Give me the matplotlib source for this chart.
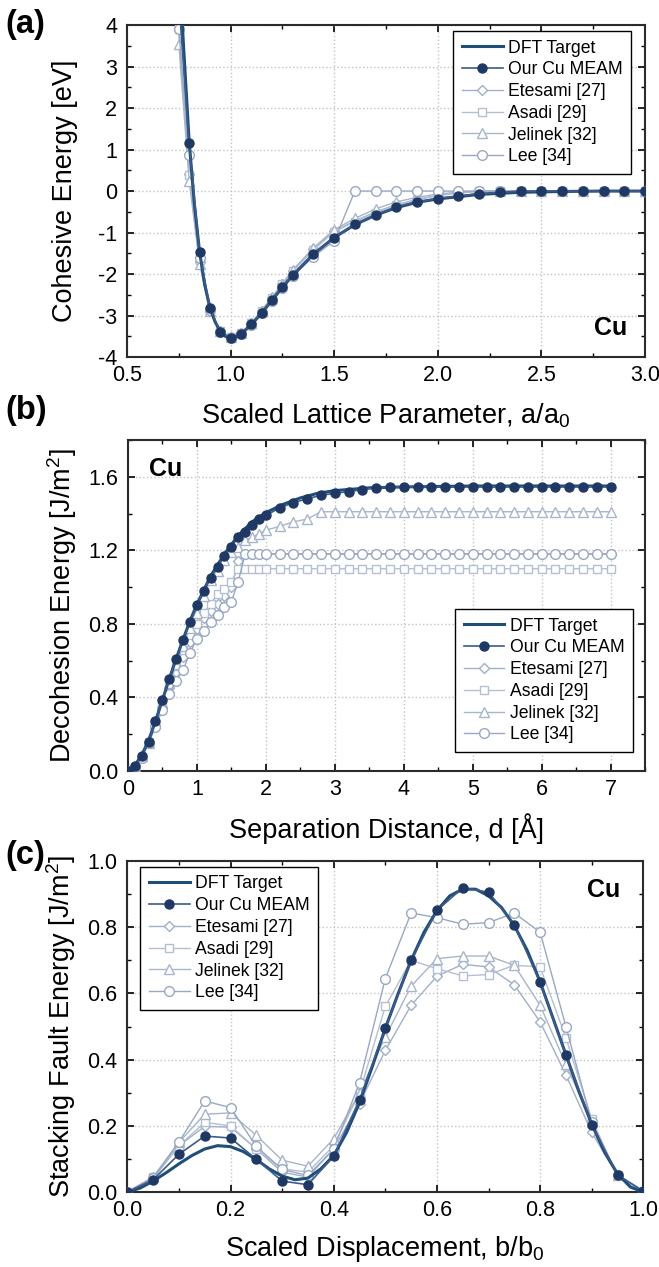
import matplotlib
matplotlib.use('Agg')
import matplotlib.pyplot as plt
from matplotlib.ticker import MultipleLocator

plt.rcParams['font.family'] = ['Liberation Sans', 'DejaVu Sans']
plt.rcParams['mathtext.fontset'] = 'custom'
plt.rcParams['mathtext.rm'] = 'Liberation Sans'
plt.rcParams['mathtext.it'] = 'Liberation Sans:italic'

labels = ['DFT Target', 'Our Cu MEAM', 'Etesami [27]', 'Asadi [29]', 'Jelinek [32]', 'Lee [34]']

#%% (a) cohesive energy
a_x = [0.75, 0.8, 0.85, 0.9, 0.95, 1.0, 1.05, 1.1, 1.15, 1.2, 1.25, 1.3, 1.4, 1.5, 1.6,
       1.7, 1.8, 1.9, 2.0, 2.1, 2.2, 2.3, 2.4, 2.5, 2.6, 2.7, 2.8, 2.9, 3.0]
a_meam = [4.6, 1.15, -1.46, -2.82, -3.40, -3.54, -3.45, -3.21, -2.93, -2.62, -2.30, -2.02, -1.51, -1.12, -0.80,
          -0.58, -0.38, -0.26, -0.18, -0.12, -0.06, -0.03, 0.0, 0.0, 0.0, 0.0, 0.0, 0.0, 0.0]
a_etesami = [3.9, 0.40, -1.70, -2.88, -3.38, -3.52, -3.42, -3.18, -2.88, -2.57, -2.24, -1.92, -1.40, -0.96, -0.72,
             -0.50, -0.33, -0.20, -0.10, -0.04, 0.0, 0.0, 0.0, 0.0, 0.0, 0.0, 0.0, 0.0, 0.0]
a_asadi = [3.9, 0.38, -1.66, -2.86, -3.37, -3.52, -3.42, -3.18, -2.89, -2.58, -2.25, -1.93, -1.42, -0.98, -0.74,
           -0.52, -0.34, -0.21, -0.11, -0.05, -0.01, 0.0, 0.0, 0.0, 0.0, 0.0, 0.0, 0.0, 0.0]
a_jelinek = [3.55, 0.25, -1.75, -2.90, -3.38, -3.52, -3.42, -3.18, -2.88, -2.56, -2.23, -1.90, -1.37, -0.93, -0.66,
             -0.43, -0.26, -0.15, -0.07, -0.03, 0.0, 0.0, 0.0, 0.0, 0.0, 0.0, 0.0, 0.0, 0.0]
a_lee = [3.9, 0.86, -1.62, -2.86, -3.40, -3.54, -3.45, -3.22, -2.94, -2.64, -2.33, -2.05, -1.58, -1.20, 0.0,
         0.0, 0.0, 0.0, 0.0, 0.0, 0.0, 0.0, 0.0, 0.0, 0.0, 0.0, 0.0, 0.0, 0.0]
a_dft_x = [0.76, 0.8, 0.825, 0.85, 0.875, 0.9, 0.925, 0.95, 0.975, 1.0, 1.025, 1.05, 1.1, 1.15, 1.2, 1.25,
           1.3, 1.4, 1.5, 1.6, 1.7, 1.8, 1.9, 2.0, 2.2, 2.4, 2.6, 2.8, 3.0]
a_dft = [4.6, 1.2, -0.3, -1.45, -2.25, -2.8, -3.15, -3.38, -3.5, -3.54, -3.51, -3.45, -3.22, -2.94, -2.63, -2.32,
         -2.03, -1.52, -1.12, -0.81, -0.58, -0.40, -0.27, -0.19, -0.08, -0.03, -0.01, 0.0, 0.0]

#%% (b) decohesion energy
b_x = [0.0, 0.1, 0.2, 0.3, 0.4, 0.5, 0.6, 0.7, 0.8, 0.9, 1.0, 1.1, 1.2, 1.3, 1.4, 1.5, 1.6, 1.7, 1.8, 1.9, 2.0,
       2.2, 2.4, 2.6, 2.8, 3.0, 3.2, 3.4, 3.6, 3.8, 4.0, 4.2, 4.4, 4.6, 4.8, 5.0, 5.2, 5.4, 5.6, 5.8, 6.0,
       6.2, 6.4, 6.6, 6.8, 7.0]
b_meam = [0.0, 0.027, 0.08, 0.16, 0.27, 0.385, 0.50, 0.61, 0.71, 0.81, 0.90, 0.98, 1.05, 1.11, 1.17, 1.22, 1.27,
          1.30, 1.34, 1.37, 1.39, 1.43, 1.46, 1.48, 1.50, 1.51, 1.52, 1.53, 1.54, 1.545, 1.545, 1.545, 1.545,
          1.545, 1.545, 1.545, 1.545, 1.545, 1.545, 1.545, 1.545, 1.545, 1.545, 1.545, 1.545, 1.545]
b_etesami = [0.0, 0.02, 0.075, 0.155, 0.25, 0.35, 0.45, 0.54, 0.62, 0.70, 0.77, 0.83, 0.87, 0.91, 0.95, 1.00,
             1.14, 1.18, 1.18, 1.18, 1.18, 1.18, 1.18, 1.18, 1.18, 1.18, 1.18, 1.18, 1.18, 1.18, 1.18, 1.18,
             1.18, 1.18, 1.18, 1.18, 1.18, 1.18, 1.18, 1.18, 1.18, 1.18, 1.18, 1.18, 1.18, 1.18]
b_asadi = [0.0, 0.02, 0.075, 0.16, 0.26, 0.36, 0.47, 0.57, 0.66, 0.74, 0.80, 0.86, 0.91, 0.96, 0.99, 1.03,
           1.10, 1.10, 1.10, 1.10, 1.10, 1.10, 1.10, 1.10, 1.10, 1.10, 1.10, 1.10, 1.10, 1.10, 1.10, 1.10,
           1.10, 1.10, 1.10, 1.10, 1.10, 1.10, 1.10, 1.10, 1.10, 1.10, 1.10, 1.10, 1.10, 1.10]
b_jelinek = [0.0, 0.02, 0.08, 0.15, 0.26, 0.37, 0.48, 0.58, 0.68, 0.78, 0.86, 0.95, 1.04, 1.09, 1.15, 1.19,
             1.22, 1.255, 1.27, 1.29, 1.31, 1.33, 1.355, 1.37, 1.41, 1.41, 1.41, 1.41, 1.41, 1.41, 1.41, 1.41,
             1.41, 1.41, 1.41, 1.41, 1.41, 1.41, 1.41, 1.41, 1.41, 1.41, 1.41, 1.41, 1.41, 1.41]
b_lee = [0.0, 0.02, 0.07, 0.15, 0.24, 0.33, 0.42, 0.49, 0.55, 0.64, 0.72, 0.76, 0.81, 0.85, 0.89, 0.92,
         1.03, 1.18, 1.18, 1.18, 1.18, 1.18, 1.18, 1.18, 1.18, 1.18, 1.18, 1.18, 1.18, 1.18, 1.18, 1.18,
         1.18, 1.18, 1.18, 1.18, 1.18, 1.18, 1.18, 1.18, 1.18, 1.18, 1.18, 1.18, 1.18, 1.18]
b_dft_x = [0.0, 0.1, 0.2, 0.3, 0.4, 0.5, 0.6, 0.7, 0.8, 0.9, 1.0, 1.2, 1.4, 1.6, 1.8, 2.0, 2.25, 2.5, 2.75,
           3.0, 3.5, 4.0, 5.0, 6.0, 7.0]
b_dft = [0.0, 0.03, 0.085, 0.165, 0.27, 0.385, 0.5, 0.61, 0.715, 0.815, 0.905, 1.06, 1.18, 1.28, 1.355,
         1.405, 1.45, 1.485, 1.51, 1.525, 1.54, 1.545, 1.55, 1.55, 1.55]

#%% (c) stacking fault energy
c_x = [0.0, 0.05, 0.1, 0.15, 0.2, 0.25, 0.3, 0.35, 0.4, 0.45, 0.5, 0.55, 0.6, 0.65, 0.7, 0.75, 0.8, 0.85,
       0.9, 0.95, 1.0]
c_meam = [0.0, 0.037, 0.114, 0.169, 0.163, 0.099, 0.033, 0.022, 0.108, 0.279, 0.495, 0.70, 0.851, 0.919,
          0.906, 0.808, 0.634, 0.415, 0.203, 0.052, 0.003]
c_etesami = [0.0, 0.04, 0.14, 0.198, 0.196, 0.13, 0.06, 0.045, 0.13, 0.267, 0.428, 0.564, 0.652, 0.688,
             0.68, 0.626, 0.514, 0.354, 0.18, 0.05, 0.0]
c_asadi = [0.0, 0.045, 0.14, 0.21, 0.20, 0.13, 0.07, 0.06, 0.14, 0.30, 0.561, 0.70, 0.675, 0.653, 0.657,
           0.685, 0.68, 0.466, 0.22, 0.05, 0.0]
c_jelinek = [0.0, 0.045, 0.15, 0.235, 0.239, 0.171, 0.096, 0.078, 0.161, 0.30, 0.468, 0.622, 0.705, 0.713,
             0.713, 0.685, 0.564, 0.386, 0.21, 0.05, 0.0]
c_lee = [0.0, 0.043, 0.151, 0.275, 0.255, 0.138, 0.068, 0.05, 0.13, 0.33, 0.645, 0.843, 0.829, 0.809, 0.814,
         0.843, 0.785, 0.50, 0.21, 0.05, 0.0]
c_dft_x = [0.0, 0.025, 0.05, 0.075, 0.1, 0.125, 0.15, 0.175, 0.2, 0.225, 0.25, 0.275, 0.3, 0.325, 0.35,
           0.375, 0.4, 0.425, 0.45, 0.475, 0.5, 0.525, 0.55, 0.575, 0.6, 0.625, 0.65, 0.675, 0.7, 0.725,
           0.75, 0.775, 0.8, 0.825, 0.85, 0.875, 0.9, 0.925, 0.95, 0.975, 1.0]
c_dft = [0.0, 0.012, 0.033, 0.058, 0.085, 0.11, 0.13, 0.14, 0.137, 0.122, 0.098, 0.07, 0.048, 0.037, 0.042,
         0.07, 0.11, 0.18, 0.27, 0.38, 0.495, 0.60, 0.70, 0.785, 0.85, 0.895, 0.915, 0.915, 0.895, 0.86,
         0.805, 0.73, 0.635, 0.525, 0.415, 0.305, 0.205, 0.12, 0.055, 0.015, 0.0]

dft_col = '#1f4e79'
meam_face = '#1f3864'
meam_line = '#3d5a8a'
light_cols = ['#9fb0c8', '#b3bfd3', '#a8b5ca', '#99a8c2']
light_markers = ['D', 's', '^', 'o']
light_ms = [5.5, 6, 7, 7]


def draw(ax, dx, dy, x, meam, others):
    ax.plot(dx, dy, color=dft_col, lw=2.2, zorder=4, label=labels[0])
    ax.plot(x, meam, color=meam_line, lw=1.2, marker='o', ms=6.5, mfc=meam_face, mec=meam_face,
            zorder=5, label=labels[1])
    for i, ys in enumerate(others):
        ax.plot(x, ys, color=light_cols[i], lw=1.0, marker=light_markers[i], ms=light_ms[i],
                mfc='white', mec=light_cols[i], mew=1.0, zorder=3, label=labels[i + 2])


def style(ax):
    ax.tick_params(which='both', direction='in', top=True, right=True, labelsize=15.5)
    ax.tick_params(which='major', length=5, width=1.2)
    ax.tick_params(which='minor', length=3, width=1.0)
    ax.tick_params(axis='y', pad=7)
    ax.tick_params(axis='x', pad=6)
    ax.grid(True, which='major', ls=':', color='#c4c4c4', lw=1.0)
    ax.set_axisbelow(True)
    for s in ax.spines.values():
        s.set_linewidth(1.5)
        s.set_color('#2b2b2b')


def legend(ax, loc, anchor):
    leg = ax.legend(loc=loc, bbox_to_anchor=anchor, fontsize=12.7, frameon=True, fancybox=False,
                    edgecolor='black', framealpha=1, handlelength=2.3, handletextpad=0.3,
                    labelspacing=0.27, borderpad=0.5, borderaxespad=0)
    leg.get_frame().set_linewidth(1.0)
    leg.set_zorder(10)


fig = plt.figure(figsize=(6.59, 12.67), dpi=100)

ax1 = fig.add_axes([0.1927, 0.7182, 0.786, 0.262])
draw(ax1, a_dft_x, a_dft, a_x, a_meam, [a_etesami, a_asadi, a_jelinek, a_lee])
ax1.set_xlim(0.5, 3.0)
ax1.set_ylim(-4, 4)
ax1.xaxis.set_major_locator(MultipleLocator(0.5))
ax1.xaxis.set_minor_locator(MultipleLocator(0.25))
ax1.yaxis.set_major_locator(MultipleLocator(1))
ax1.yaxis.set_minor_locator(MultipleLocator(0.5))
ax1.xaxis.set_major_formatter(lambda v, p: f'{v:.1f}')
ax1.yaxis.set_major_formatter(lambda v, p: f'{v:.0f}')
style(ax1)
ax1.set_xlabel('Scaled Lattice Parameter, a/a$_\\mathregular{0}$', fontsize=19.5, labelpad=11)
ax1.set_ylabel('Cohesive Energy [eV]', fontsize=19.5)
ax1.yaxis.set_label_coords(-0.095, 0.5)
ax1.text(0.965, 0.05, 'Cu', transform=ax1.transAxes, fontsize=18, fontweight='bold', ha='right', va='bottom')
legend(ax1, 'upper right', (0.974, 0.983))

ax2 = fig.add_axes([0.194, 0.3915, 0.785, 0.2612])
draw(ax2, b_dft_x, b_dft, b_x, b_meam, [b_etesami, b_asadi, b_jelinek, b_lee])
ax2.set_xlim(0, 7.5)
ax2.set_ylim(0, 1.8)
ax2.xaxis.set_major_locator(MultipleLocator(1))
ax2.xaxis.set_minor_locator(MultipleLocator(0.5))
ax2.yaxis.set_major_locator(MultipleLocator(0.4))
ax2.yaxis.set_minor_locator(MultipleLocator(0.2))
ax2.xaxis.set_major_formatter(lambda v, p: f'{v:.0f}')
ax2.yaxis.set_major_formatter(lambda v, p: f'{v:.1f}')
style(ax2)
ax2.set_xlabel('Separation Distance, d [Å]', fontsize=19.5, labelpad=9)
ax2.set_ylabel('Decohesion Energy [J/m$^\\mathregular{2}$]', fontsize=19.5)
ax2.yaxis.set_label_coords(-0.095, 0.5)
ax2.text(0.04, 0.95, 'Cu', transform=ax2.transAxes, fontsize=18, fontweight='bold', ha='left', va='top')
legend(ax2, 'lower right', (0.977, 0.0565))

ax3 = fig.add_axes([0.1932, 0.0592, 0.783, 0.2612])
draw(ax3, c_dft_x, c_dft, c_x, c_meam, [c_etesami, c_asadi, c_jelinek, c_lee])
ax3.set_xlim(0, 1)
ax3.set_ylim(0, 1)
ax3.xaxis.set_major_locator(MultipleLocator(0.2))
ax3.xaxis.set_minor_locator(MultipleLocator(0.1))
ax3.yaxis.set_major_locator(MultipleLocator(0.2))
ax3.yaxis.set_minor_locator(MultipleLocator(0.1))
ax3.xaxis.set_major_formatter(lambda v, p: f'{v:.1f}')
ax3.yaxis.set_major_formatter(lambda v, p: f'{v:.1f}')
style(ax3)
ax3.set_xlabel('Scaled Displacement, b/b$_\\mathregular{0}$', fontsize=19.5, labelpad=9)
ax3.set_ylabel('Stacking Fault Energy [J/m$^\\mathregular{2}$]', fontsize=19.5)
ax3.yaxis.set_label_coords(-0.095, 0.5)
ax3.text(0.955, 0.95, 'Cu', transform=ax3.transAxes, fontsize=18, fontweight='bold', ha='right', va='top')
legend(ax3, 'upper left', (0.025, 0.983))

for lab, y in [('(a)', 0.993), ('(b)', 0.688), ('(c)', 0.337)]:
    fig.text(0.008, y, lab, fontsize=23.5, fontweight='bold', ha='left', va='top')

fig.savefig('out.png', dpi=100)
